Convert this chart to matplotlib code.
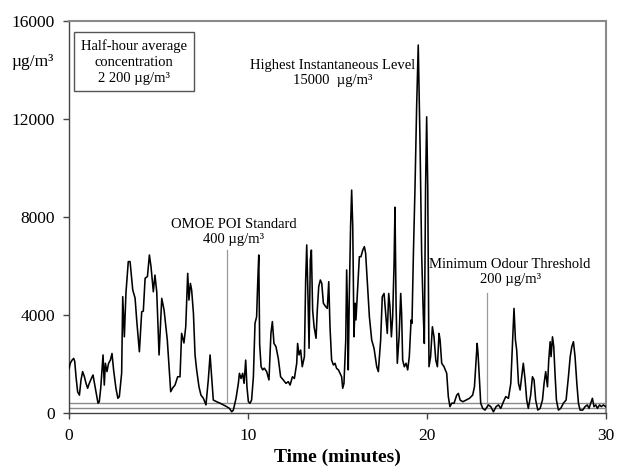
import matplotlib
matplotlib.use("Agg")
import matplotlib.pyplot as plt

# ---- data (time in minutes, concentration in ug/m3) ----
time_min = [
    0, 0.07, 0.17, 0.26, 0.32, 0.39, 0.48, 0.58, 0.67, 0.76, 0.86, 0.95, 1.04, 1.13, 1.21, 1.29, 1.34,
    1.42, 1.47, 1.54, 1.62, 1.69, 1.77, 1.84, 1.9, 1.97, 2.03, 2.12, 2.21, 2.31, 2.4, 2.49, 2.62, 2.73,
    2.81, 2.88, 2.94,
    3.00, 3.09, 3.18, 3.31, 3.41, 3.56, 3.69, 3.78, 3.93, 4.06, 4.15, 4.25, 4.38, 4.49, 4.58, 4.71, 4.80,
    4.90, 5.03, 5.18, 5.31, 5.49, 5.68, 5.79, 5.92, 6.07, 6.20, 6.29, 6.42, 6.52, 6.63, 6.70, 6.78, 6.85,
    6.95, 7.04, 7.13, 7.26, 7.37, 7.50, 7.65, 7.78, 7.88,
    7.97, 8.06, 8.25, 8.44, 8.62, 8.81, 8.96, 9.09, 9.18, 9.33, 9.46, 9.52, 9.61, 9.70, 9.78, 9.87, 9.94,
    10.02, 10.11, 10.2, 10.3, 10.39, 10.48, 10.54, 10.6, 10.65, 10.73, 10.82, 10.91, 11.04, 11.17, 11.28,
    11.36, 11.45, 11.56, 11.69, 11.82, 11.97, 12.12, 12.25, 12.35, 12.48, 12.59, 12.72, 12.77, 12.85,
    12.94, 13.03, 13.15, 13.22, 13.28, 13.35, 13.41, 13.48, 13.54, 13.61, 13.69, 13.80, 13.87, 13.95,
    14.04, 14.12, 14.21, 14.34, 14.43, 14.51, 14.58,
    14.67, 14.77, 14.86, 14.95, 15.05, 15.14, 15.23, 15.29, 15.36, 15.46, 15.51, 15.57, 15.60, 15.66,
    15.73, 15.79, 15.85, 15.92, 15.98, 16.03, 16.11, 16.22, 16.31, 16.41, 16.5, 16.57, 16.67, 16.78,
    16.91, 17.04, 17.19, 17.28, 17.41, 17.5, 17.6, 17.69, 17.78, 17.86, 17.93, 18.01, 18.08, 18.16,
    18.21, 18.27, 18.34, 18.44, 18.53, 18.58, 18.64, 18.73, 18.83, 18.92, 19.01, 19.11, 19.16, 19.24,
    19.33, 19.42, 19.51, 19.61, 19.70, 19.79, 19.85, 19.92, 19.98, 20.04, 20.11, 20.2, 20.3, 20.39,
    20.49, 20.58, 20.67, 20.73, 20.82, 20.95, 21.1, 21.19, 21.28,
    21.38, 21.51, 21.66, 21.75, 21.85, 22.0, 22.18, 22.37, 22.55, 22.65, 22.74, 22.80, 22.85, 22.93,
    23.0, 23.11, 23.24, 23.43, 23.56, 23.71, 23.86, 23.99, 24.12, 24.27, 24.4, 24.55, 24.68, 24.77,
    24.86, 24.94, 25.01, 25.11, 25.2, 25.29, 25.38, 25.48, 25.57, 25.66, 25.79, 25.89, 25.98, 26.07,
    26.19, 26.32, 26.45, 26.54, 26.63, 26.73, 26.8, 26.88, 26.93, 27.01, 27.08, 27.15, 27.23, 27.34,
    27.47, 27.62, 27.77, 27.9, 28.0, 28.09, 28.18, 28.27, 28.37, 28.46, 28.55, 28.7, 28.83, 28.96,
    29.05, 29.15, 29.24, 29.33, 29.43, 29.52, 29.64, 29.74, 29.85, 29.98,
]
concentration = [
    1820, 2030, 2160, 2230, 2100, 1480, 870, 730, 1350, 1690, 1480, 1210, 1010, 1210, 1350, 1480, 1550,
    1210, 1010, 730, 400, 460, 1010, 1760, 2370, 1140, 2030, 1690, 2030, 2160, 2430, 1760, 1010, 600,
    670, 1210, 1630,
    4750, 3110, 4900, 6180, 6180, 5020, 4690, 3800, 2500, 4130, 4160, 5500, 5570, 6450, 5970, 4950, 5630,
    4950, 2370, 4680, 4200, 2980, 870, 1020, 1140, 1480, 1480, 3250, 2860, 3520, 5700, 4610, 5290, 5020,
    4070, 2370, 1760, 1070, 730, 610, 330, 1350, 2370,
    1480, 530, 460, 400, 330, 260, 190, 50, 120, 600, 1210, 1620, 1410, 1620, 1210, 2160, 1070,
    460, 400, 530, 1480, 3660, 3930, 5290, 6450, 2800, 1890, 1760, 1830, 1690, 1350, 3250,
    3730, 2840, 2710, 2230, 1480, 1350, 1210, 1280, 1140, 1480, 1410, 2030, 2840, 2370,
    2570, 1890, 2300, 5430, 6860, 4750, 2640, 6240, 6650, 4200, 3520, 3050, 4200, 5160,
    5430, 5290, 4480, 4340, 4270, 5360, 3520,
    2160, 1960, 2030, 1820, 1760, 1620, 1480, 1010, 1210, 2980, 5840, 3800, 1760, 4880,
    7620, 9100, 7620, 3110, 4480, 3800, 4880, 6380, 6380, 6650, 6790, 6520, 5290, 3930,
    2980, 2640, 1890, 1690, 2980, 4750, 4880, 4070, 3250, 4880, 4340, 3110, 3930, 6110,
    8400, 4480, 2030, 3110, 4880, 4070, 2160, 1890, 2030, 1760, 2300, 3800, 3660, 6520,
    9240, 12500, 15020, 11000, 6520, 4070, 2840, 9240, 12090, 9240, 1890, 2300, 3520, 3110,
    2160, 1890, 3250, 2980, 2030, 1890, 1620, 670, 260,
    400, 400, 730, 800, 530, 460, 530, 600, 730, 1070, 2160, 2840, 2430, 1350,
    400, 190, 120, 330, 260, 50, 260, 330, 190, 460, 670, 600, 1210, 2710,
    4270, 2980, 2570, 1210, 940, 1480, 2030, 1350, 530, 190, 730, 1480, 1350, 530,
    120, 190, 530, 1210, 1690, 1070, 2160, 2910, 2300, 3110, 2710, 1620, 530, 120,
    190, 400, 530, 1480, 2300, 2710, 2910, 2300, 1210, 400, 120, 120, 260, 330,
    190, 400, 600, 260, 330, 190, 330, 260, 330, 260,
]

x_ticks = [0, 10, 20, 30]
y_ticks = [0, 4000, 8000, 12000, 16000]

omoe_standard = 400
odour_threshold = 200
omoe_time = 8.81
odour_time = 23.33

serif = ["Liberation Serif", "DejaVu Serif"]
plt.rcParams["font.family"] = serif

fig = plt.figure(figsize=(6.18, 4.67), dpi=100)
ax = fig.add_axes([0.1117, 0.1156, 0.8689, 0.8394])

# reference lines
ax.axhline(omoe_standard, color="#8a8a8a", lw=1.0, zorder=1)
ax.axhline(odour_threshold, color="#8a8a8a", lw=1.0, zorder=1)
ax.plot([omoe_time, omoe_time], [omoe_standard, 6650], color="#9a9a9a", lw=0.9, zorder=1)
ax.plot([odour_time, odour_time], [odour_threshold, 4900], color="#9a9a9a", lw=0.9, zorder=1)

ax.plot(time_min, concentration, color="black", lw=1.15, zorder=3)

ax.set_xlim(0, 30)
ax.set_ylim(0, 16000)
ax.set_xticks(x_ticks)
ax.set_yticks(y_ticks)
ax.set_xticklabels([str(v) for v in x_ticks])
ax.set_yticklabels([str(v) for v in y_ticks])
ax.tick_params(axis="both", direction="out", length=4, width=1, labelsize=12.5,
               color="#444444")
ax.tick_params(axis="y", pad=6)
ax.tick_params(axis="x", pad=7)

for s in ["left", "bottom"]:
    ax.spines[s].set_color("#444444")
    ax.spines[s].set_linewidth(1.0)
for s in ["top", "right"]:
    ax.spines[s].set_color("#8a8a8a")
    ax.spines[s].set_linewidth(1.5)

ax.set_xlabel("Time (minutes)", fontsize=14, fontweight="bold", labelpad=3)

fig.text(0.052, 0.867, "µg/m³", fontsize=12.5, ha="center", va="center")

ax.text(3.63, 14330, "Half-hour average\nconcentration\n2 200 µg/m³", fontsize=10.5,
        ha="center", va="center", linespacing=1.3,
        bbox=dict(boxstyle="square,pad=0.45", fc="white", ec="#555555", lw=1.0))

ax.text(14.72, 13860, "Highest Instantaneous Level\n15000  µg/m³", fontsize=10.5,
        ha="center", va="center", linespacing=1.2)

ax.text(9.2, 7390, "OMOE POI Standard\n400 µg/m³", fontsize=10.5,
        ha="center", va="center", linespacing=1.2)

ax.text(24.64, 5750, "Minimum Odour Threshold\n200 µg/m³", fontsize=10.5,
        ha="center", va="center", linespacing=1.2)

fig.savefig("out.png", dpi=100)
